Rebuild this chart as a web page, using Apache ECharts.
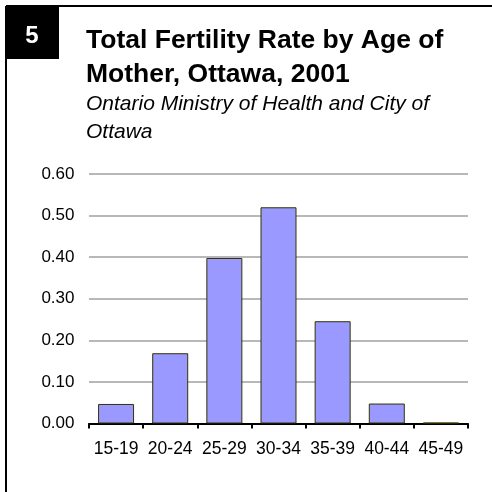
<!DOCTYPE html>
<html>
<head>
<meta charset="utf-8">
<script src="https://cdn.jsdelivr.net/npm/echarts@6/dist/echarts.min.js"></script>
<style>
  html, body { margin: 0; padding: 0; background: #fff; }
  #chart { width: 492px; height: 492px; }
</style>
</head>
<body>
<div id="chart"></div>
<script>
// age groups and rates
const ageGroups = ['15-19', '20-24', '25-29', '30-34', '35-39', '40-44', '45-49'];
const fertilityRates = [0.047, 0.169, 0.398, 0.52, 0.246, 0.048, 0.002];
const yTicks = [0, 0.1, 0.2, 0.3, 0.4, 0.5, 0.6];

const font = 'Liberation Sans, Arial, sans-serif';
const chart = echarts.init(document.getElementById('chart'));

const option = {
  backgroundColor: '#fff',
  animation: false,
  title: [{
    text: 'Total Fertility Rate by Age of\nMother, Ottawa, 2001',
    left: 86,
    top: 24,
    padding: 0,
    textStyle: { fontFamily: font, fontSize: 26.5, fontWeight: 'bold', color: '#000', lineHeight: 34 }
  }, {
    text: 'Ontario Ministry of Health and City of\nOttawa',
    left: 86,
    top: 90,
    padding: 0,
    textStyle: { fontFamily: font, fontSize: 21, fontStyle: 'italic', fontWeight: 'normal', color: '#000', lineHeight: 28 }
  }],
  graphic: [
    { type: 'rect', shape: { x: 6, y: 6, width: 53, height: 53 }, style: { fill: '#000' } },
    { type: 'text', x: 32, y: 36, style: { text: '5', fill: '#fff', font: 'bold 24px ' + font, textAlign: 'center', textVerticalAlign: 'middle' } },
    { type: 'line', shape: { x1: 6, y1: 6, x2: 492, y2: 6 }, style: { stroke: '#000', lineWidth: 2 } },
    { type: 'line', shape: { x1: 6, y1: 6, x2: 6, y2: 492 }, style: { stroke: '#000', lineWidth: 2 } }
  ],
  grid: { left: 89, right: 24, top: 174, bottom: 68.5 },
  xAxis: {
    type: 'category',
    data: ageGroups,
    axisLine: { lineStyle: { color: '#000', width: 2 } },
    axisTick: { show: true, length: 5, lineStyle: { color: '#000', width: 2 } },
    axisLabel: { fontFamily: font, fontSize: 17.5, color: '#000', margin: 17, interval: 0 }
  },
  yAxis: {
    type: 'value',
    min: yTicks[0],
    max: yTicks[yTicks.length - 1],
    interval: 0.1,
    axisLine: { show: false },
    axisTick: { show: false },
    axisLabel: {
      fontFamily: font, fontSize: 17, color: '#000', margin: 14.5,
      formatter: v => v.toFixed(2)
    },
    splitLine: { lineStyle: { color: '#a0a0a0', width: 1.5 } }
  },
  series: [{
    type: 'bar',
    data: fertilityRates,
    barWidth: 36,
    itemStyle: { color: '#9999ff', borderColor: '#333300', borderWidth: 1 }
  }]
};

chart.setOption(option);
</script>
</body>
</html>
